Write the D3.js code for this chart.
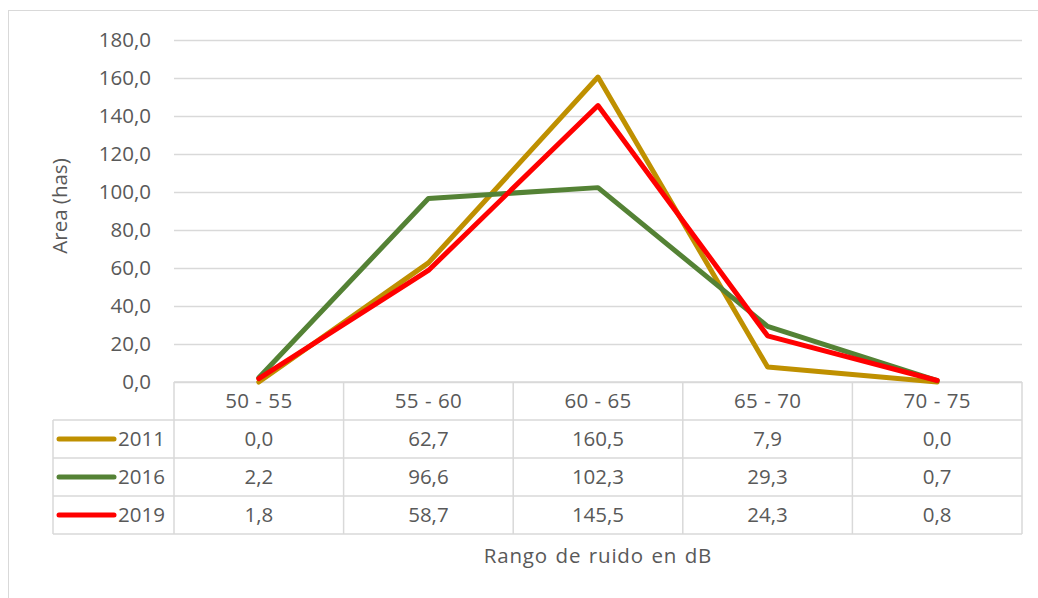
<!DOCTYPE html>
<html>
<head>
<meta charset="utf-8">
<script src="https://cdn.jsdelivr.net/npm/d3@7"></script>
<style>
  body { margin: 0; background: #fff; }
  text { font-family: "Open Sans", sans-serif; fill: #595959; }
  .wide { letter-spacing: 0.8px; word-spacing: 1.5px; }
  .catLabel { letter-spacing: 0.3px; word-spacing: 0.5px; }
</style>
</head>
<body>
<div id="chart"></div>
<script>
// data
var categories = ["50 - 55", "55 - 60", "60 - 65", "65 - 70", "70 - 75"];
var years = ["2011", "2016", "2019"];
var values2011 = [0.0, 62.7, 160.5, 7.9, 0.0];
var values2016 = [2.2, 96.6, 102.3, 29.3, 0.7];
var values2019 = [1.8, 58.7, 145.5, 24.3, 0.8];
var yTicks = [0, 20, 40, 60, 80, 100, 120, 140, 160, 180];
var colors = ["#BF9000", "#548235", "#FF0000"];

var series = [values2011, values2016, values2019];

var svgWidth = 1038;
var svgHeight = 598;
var margin = { top: 40, right: 16, bottom: 216, left: 174 };
var width = svgWidth - margin.left - margin.right;
var height = svgHeight - margin.top - margin.bottom;
var rowH = 38;
var fs = 20.5;

var svg = d3.select("#chart")
  .append("svg")
  .attr("width", svgWidth)
  .attr("height", svgHeight);

// chart border (only top and left visible in the frame)
svg.append("rect")
  .attr("x", 8.5).attr("y", 10.5)
  .attr("width", 1100).attr("height", 700)
  .attr("fill", "none")
  .attr("stroke", "#d9d9d9")
  .attr("stroke-width", 1);

var chartGroup = svg.append("g")
  .attr("transform", `translate(${margin.left}, ${margin.top})`);

var xScale = d3.scaleBand()
  .domain(categories)
  .range([0, width]);

var yScale = d3.scaleLinear()
  .domain([0, 180])
  .range([height, 0]);

var fmt = d => d.toFixed(1).replace(".", ",");

// gridlines + y labels
var leftAxis = d3.axisLeft(yScale)
  .tickValues(yTicks)
  .tickSize(-width)
  .tickPadding(23)
  .tickFormat(fmt);

var yAxisG = chartGroup.append("g").call(leftAxis);
yAxisG.select(".domain").remove();
yAxisG.selectAll(".tick line")
  .attr("stroke", "#d9d9d9")
  .attr("stroke-width", 1.5);
yAxisG.selectAll(".tick text")
  .style("font-size", fs + "px")
  .style("font-family", "'Open Sans', sans-serif")
  .attr("fill", "#595959");

// data table below the plot
var tableG = chartGroup.append("g")
  .attr("transform", `translate(0, ${height})`);
var legendLeft = 53 - margin.left;
var gridColor = "#d9d9d9";

// horizontal table lines
tableG.append("line")
  .attr("x1", 0).attr("x2", width)
  .attr("y1", 0).attr("y2", 0)
  .attr("stroke", gridColor).attr("stroke-width", 1.5);
for (var r = 1; r <= years.length + 1; r++) {
  tableG.append("line")
    .attr("x1", legendLeft).attr("x2", width)
    .attr("y1", r * rowH).attr("y2", r * rowH)
    .attr("stroke", gridColor).attr("stroke-width", 1.5);
}
// vertical table lines
tableG.append("line")
  .attr("x1", legendLeft).attr("x2", legendLeft)
  .attr("y1", rowH).attr("y2", rowH * (years.length + 1))
  .attr("stroke", gridColor).attr("stroke-width", 1.5);
categories.concat([null]).forEach(function (c, i) {
  var x = c === null ? width : xScale(c);
  tableG.append("line")
    .attr("x1", x).attr("x2", x)
    .attr("y1", 0).attr("y2", rowH * (years.length + 1))
    .attr("stroke", gridColor).attr("stroke-width", 1.5);
});

// header labels
tableG.selectAll(".catLabel")
  .data(categories)
  .enter()
  .append("text")
  .attr("class", "catLabel")
  .attr("x", d => xScale(d) + xScale.bandwidth() / 2)
  .attr("y", rowH / 2)
  .attr("dy", "0.35em")
  .attr("text-anchor", "middle")
  .style("font-size", fs + "px")
  .text(d => d);

// value rows + legend keys
years.forEach(function (yr, i) {
  var cy = rowH * (i + 1) + rowH / 2;
  tableG.append("line")
    .attr("x1", 59 - margin.left).attr("x2", 114 - margin.left)
    .attr("y1", cy).attr("y2", cy)
    .attr("stroke", colors[i])
    .attr("stroke-width", 5)
    .attr("stroke-linecap", "round");
  tableG.append("text")
    .attr("x", 118 - margin.left)
    .attr("y", cy)
    .attr("dy", "0.35em")
    .style("font-size", fs + "px")
    .text(yr);
  tableG.selectAll(".val" + i)
    .data(series[i])
    .enter()
    .append("text")
    .attr("class", "val" + i)
    .attr("x", (d, j) => xScale(categories[j]) + xScale.bandwidth() / 2)
    .attr("y", cy)
    .attr("dy", "0.35em")
    .attr("text-anchor", "middle")
    .style("font-size", fs + "px")
    .text(d => fmt(d));
});

// lines
var line = d3.line()
  .x((d, j) => xScale(categories[j]) + xScale.bandwidth() / 2)
  .y(d => yScale(d));

series.forEach(function (vals, i) {
  chartGroup.append("path")
    .datum(vals)
    .attr("fill", "none")
    .attr("stroke", colors[i])
    .attr("stroke-width", 5)
    .attr("stroke-linejoin", "round")
    .attr("stroke-linecap", "round")
    .attr("d", line);
});

// axis titles
svg.append("text")
  .attr("transform", "translate(60, 206) rotate(-90)")
  .attr("text-anchor", "middle")
  .attr("dy", "0.35em")
  .style("font-size", fs + "px")
  .text("Area (has)");

svg.append("text")
  .attr("class", "wide")
  .attr("x", margin.left + width / 2)
  .attr("y", 556)
  .attr("dy", "0.35em")
  .attr("text-anchor", "middle")
  .style("font-size", fs + "px")
  .text("Rango de ruido en dB");
</script>
</body>
</html>
